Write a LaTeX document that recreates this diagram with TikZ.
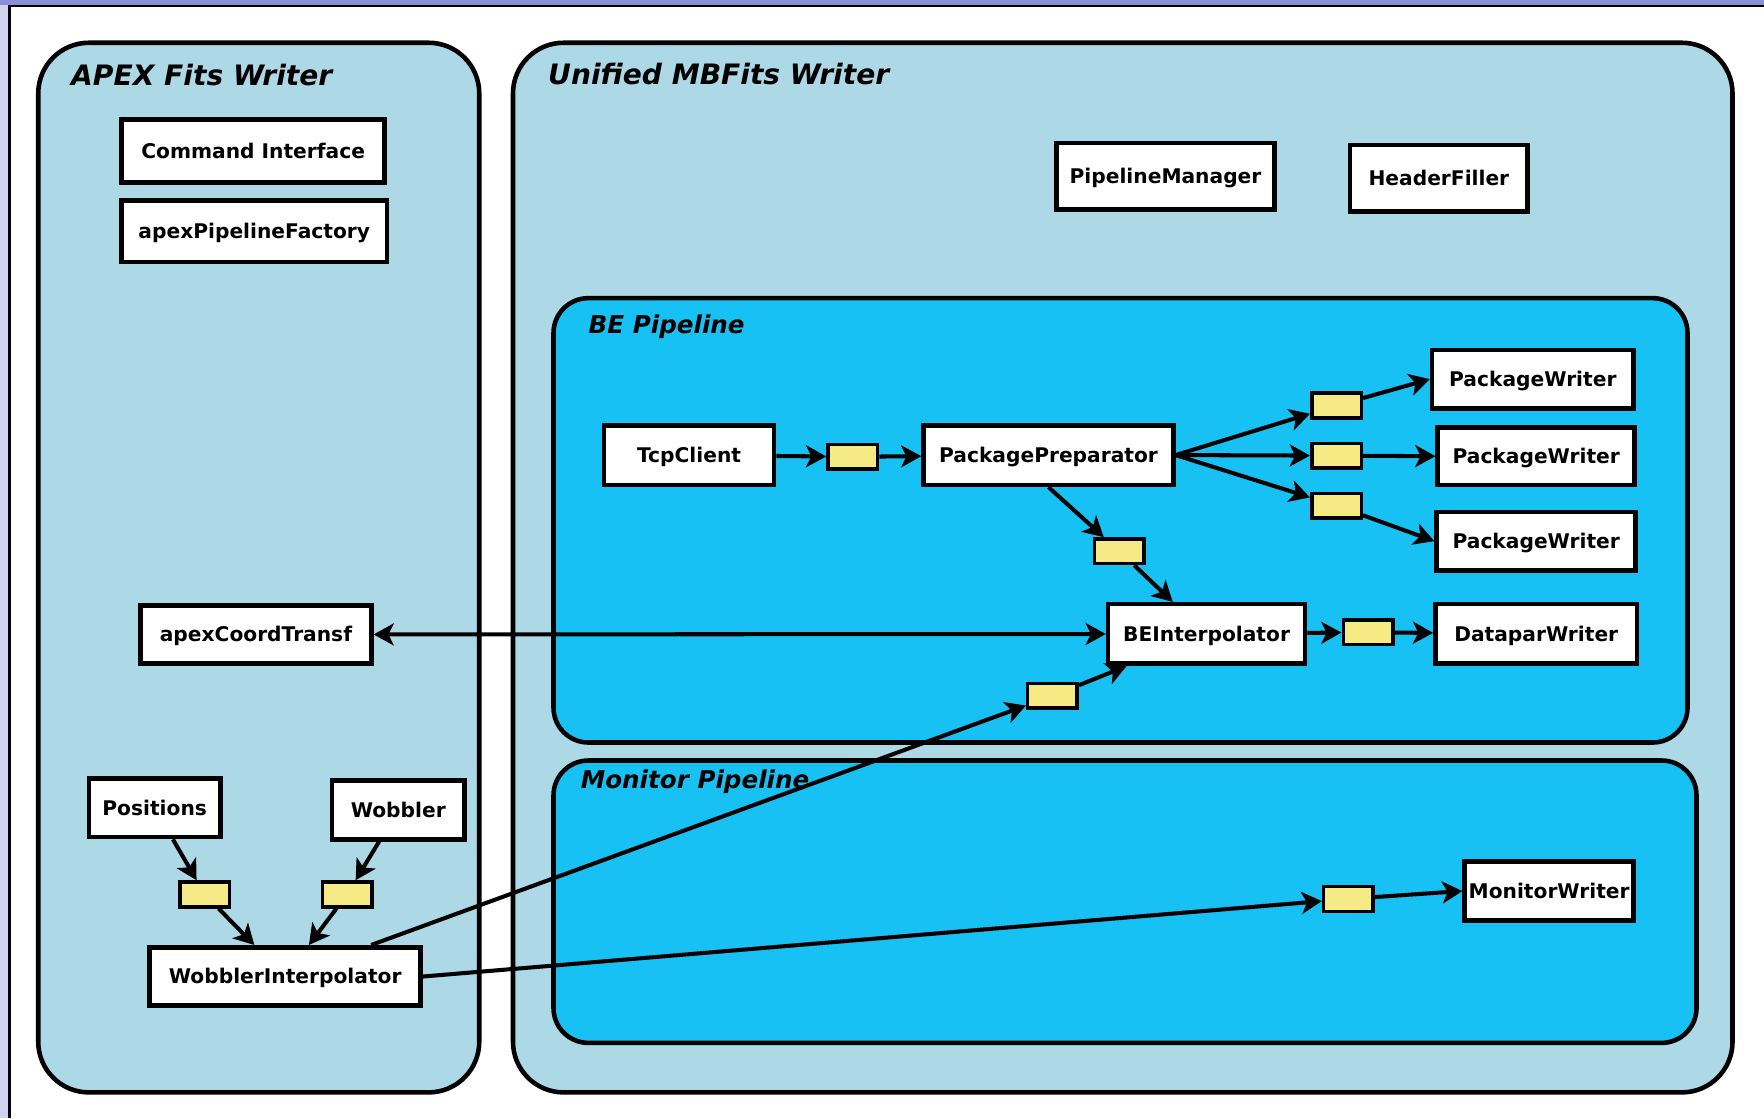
\documentclass[tikz,border=0pt]{standalone}
\usepackage{fontspec}
\setmainfont{DejaVu Sans}
\usetikzlibrary{arrows.meta, calc}

\definecolor{boxblue}{RGB}{173,216,230}
\definecolor{pipeblue}{RGB}{23,193,243}
\definecolor{queuey}{RGB}{245,234,132}
\definecolor{winbar}{RGB}{138,143,214}
\definecolor{winside}{RGB}{208,210,240}

\newlength{\px}
\setlength{\px}{0.0225cm}

\begin{document}
\begin{tikzpicture}[x=0.0225cm, y=-0.0225cm,
  >={Stealth[length=11.5pt, width=12.5pt, inset=3pt]},
  comp/.style={draw, line width=2.6pt, fill=white, inner sep=0pt,
    font=\fontsize{11.5}{13}\selectfont\bfseries, text height=8.4pt, text depth=0pt},
  queue/.style={draw, line width=2pt, fill=queuey, inner sep=0pt,
    minimum width=44\px, minimum height=22\px},
  area/.style={draw, line width=2.6pt, rounded corners=45\px, fill=boxblue},
  pipe/.style={draw, line width=2.6pt, rounded corners=31\px, fill=pipeblue},
  title/.style={anchor=base west, inner sep=0pt, font=\fontsize{16}{19}\selectfont\bfseries\itshape},
  subtitle/.style={title, font=\fontsize{14}{17}\selectfont\bfseries\itshape},
  flow/.style={line width=2.3pt, ->}]
  \useasboundingbox (0,0) rectangle (1568,994);
  \fill[white] (0,0) rectangle (1568,994);
  \fill[winside] (0,0) rectangle (7.5,994);
  \fill[winbar] (0,0) rectangle (1568,4.4);
  \draw[line width=1.15pt] (8.5,5.3) -- (1568,5.3);
  \draw[line width=1.7pt] (8.45,4.4) -- (8.45,994);

  \draw[area] (34,38) rectangle (426,971);
  \draw[area] (456,38) rectangle (1540,971);
  \draw[pipe] (492,265) rectangle (1500,660);
  \draw[pipe] (492,676) rectangle (1508,927);

  \node[title] (apextitle) at (63,75.6) {APEX Fits Writer};
  \node[title] (mbtitle) at (487,75) {Unified MBFits Writer};
  \node[subtitle] (betitle) at (523,296) {BE Pipeline};
  \node[subtitle] (montitle) at (516,700.5) {Monitor Pipeline};

  \node[comp, minimum width=234\px, minimum height=56\px] (cmd) at (225,134) {Command Interface};
  \node[comp, minimum width=236\px, minimum height=55\px] (apf) at (226,205.5) {apexPipelineFactory};
  \node[comp, minimum width=205\px, minimum height=52\px] (act) at (227.5,564) {apexCoordTransf};
  \node[comp, minimum width=117\px, minimum height=52\px] (pos) at (137.5,718) {Positions};
  \node[comp, minimum width=118\px, minimum height=52\px] (wob) at (354,720) {Wobbler};
  \node[comp, minimum width=241\px, minimum height=52\px] (wi) at (253.5,868) {WobblerInterpolator};
  \node[queue] (qpos) at (182,795) {};
  \node[queue] (qwob) at (308.5,795) {};

  \node[comp, minimum width=194\px, minimum height=59\px] (pm) at (1036,156.5) {PipelineManager};
  \node[comp, minimum width=158\px, minimum height=59\px] (hf) at (1279,158.5) {HeaderFiller};

  \node[comp, minimum width=151\px, minimum height=53\px] (tcp) at (612.5,404.5) {TcpClient};
  \node[queue] (qtcp) at (758,406) {};
  \node[comp, minimum width=222\px, minimum height=53\px] (pp) at (932,404.5) {PackagePreparator};
  \node[queue] (qpw1) at (1188,360.5) {};
  \node[queue] (qpw2) at (1188,405) {};
  \node[queue] (qpw3) at (1188,449.5) {};
  \node[comp, minimum width=179\px, minimum height=52\px] (pw1) at (1362.5,337) {PackageWriter};
  \node[comp, minimum width=175\px, minimum height=51\px] (pw2) at (1365.5,405.5) {PackageWriter};
  \node[comp, minimum width=177\px, minimum height=52\px] (pw3) at (1365.5,481) {PackageWriter};
  \node[queue] (qpp) at (995,490) {};
  \node[comp, minimum width=175\px, minimum height=53\px] (be) at (1072.5,563.5) {BEInterpolator};
  \node[queue] (qbe) at (1216,562) {};
  \node[comp, minimum width=179\px, minimum height=53\px] (dw) at (1365.5,563.5) {DataparWriter};
  \node[queue] (qwi) at (935.5,618.5) {};

  \node[queue] (qmon) at (1198.5,799) {};
  \node[comp, minimum width=150\px, minimum height=52\px] (mw) at (1377,792) {MonitorWriter};

  \path[draw, flow] (pos) -- (qpos);
  \path[draw, flow] (qpos) -- (wi);
  \path[draw, flow] (wob) -- (qwob);
  \path[draw, flow] (qwob) -- (wi);
  \path[draw, flow] (tcp) -- (qtcp);
  \path[draw, flow] (qtcp) -- (pp);
  \path[draw, flow] (pp.east) -- (qpw1);
  \path[draw, flow] (pp.east) -- (qpw2);
  \path[draw, flow] (pp.east) -- (qpw3);
  \path[draw, flow] (qpw1) -- (pw1.west);
  \path[draw, flow] (qpw2) -- (pw2.west);
  \path[draw, flow] (qpw3) -- (pw3.west);
  \path[draw, flow] (pp.south) -- (qpp);
  \path[draw, flow] (qpp) -- (be);
  \path[draw, flow] (be) -- (qbe);
  \path[draw, flow] (qbe) -- (dw);
  \path[draw, flow, <->] (act) -- (be);
  \path[draw, flow] (wi) -- (qwi);
  \path[draw, flow] (qwi) -- (be);
  \path[draw, flow] (wi.east) -- (qmon);
  \path[draw, flow] (qmon) -- (mw.west);
\end{tikzpicture}
\end{document}
